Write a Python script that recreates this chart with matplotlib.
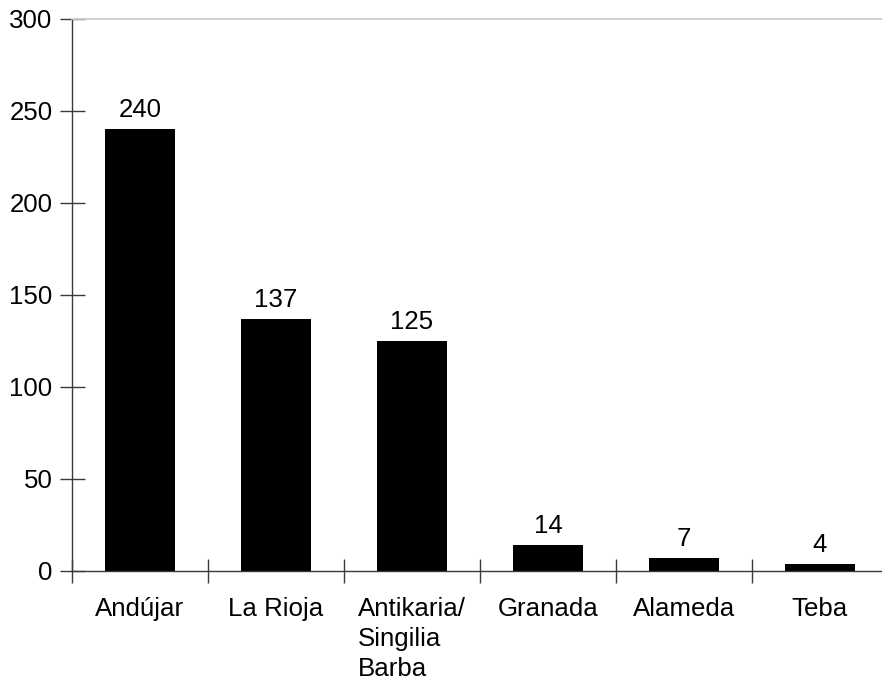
import matplotlib
matplotlib.use("Agg")
import matplotlib.pyplot as plt
import numpy as np

categories = ["Andújar", "La Rioja", "Antikaria/\nSingilia\nBarba", "Granada", "Alameda", "Teba"]
values = [240, 137, 125, 14, 7, 4]
yticks = [0, 50, 100, 150, 200, 250, 300]

plt.rcParams['font.family'] = ['Liberation Sans', 'DejaVu Sans']
FS = 18.6

fig = plt.figure(figsize=(8.82, 6.83), dpi=100)
W, H = 882, 683
left, right, top, bottom = 72, 888, 19, 571
ax = fig.add_axes([left / W, 1 - bottom / H, (right - left) / W, (bottom - top) / H])

x = np.arange(len(categories))
ax.bar(x, values, width=0.51, color='black')
for xi, v in zip(x, values):
    ax.annotate(str(v), (xi, v), xytext=(0, 5), textcoords='offset points',
                ha='center', va='bottom', fontsize=FS, color='black')

ax.set_xlim(-0.5, len(categories) - 0.5)
ax.set_ylim(0, 300)
ax.set_yticks(yticks)
ax.set_xticks(x)
ax.set_xticklabels(categories, fontsize=FS, multialignment='left', linespacing=1.3)
ax.set_xticks(np.arange(len(categories) + 1) - 0.5, minor=True)

axcol = '#3a3a3a'
ax.tick_params(axis='x', which='major', length=0, pad=19, labelsize=FS)
ax.tick_params(axis='x', which='minor', direction='inout', length=17.5, width=1, color=axcol)
ax.tick_params(axis='y', which='major', direction='inout', length=18, width=1, color=axcol,
               pad=5, labelsize=FS)

ax.spines['right'].set_visible(False)
ax.spines['top'].set_color('#cccccc')
ax.spines['top'].set_linewidth(1.3)
ax.spines['left'].set_color(axcol)
ax.spines['bottom'].set_color(axcol)
ax.spines['left'].set_linewidth(1)
ax.spines['bottom'].set_linewidth(1)

fig.savefig("out.png", dpi=100)
